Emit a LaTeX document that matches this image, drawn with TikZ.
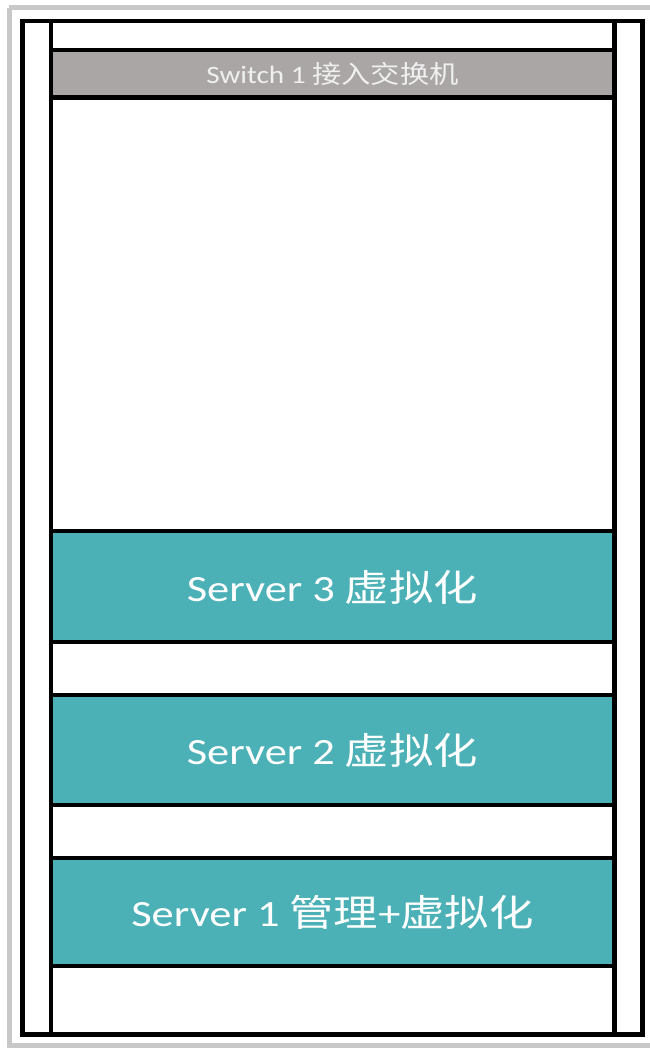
\documentclass[tikz,border=0pt]{standalone}
\usepackage{fontspec}
\setmainfont{Carlito}
\newfontfamily\cjk{Noto Sans CJK SC}
\definecolor{teal1}{HTML}{4BB1B7}
\definecolor{swgray}{HTML}{A9A6A5}
\definecolor{framegray}{HTML}{C8C8C8}
\begin{document}
\begin{tikzpicture}[x=1pt,y=-1pt,
  rackline/.style={draw=black,line width=4.8pt},
  serverbox/.style={rackline,fill=teal1},
  switchbox/.style={rackline,fill=swgray},
  lbl/.style={text=white,inner sep=0pt,anchor=center}]
\useasboundingbox (0,0) rectangle (650,1050);
\clip (0,0) rectangle (650,1050);
\fill[white] (0,0) rectangle (650,1050);
\draw[framegray,line width=5pt] (9,7.5) -- (680,7.5);
\draw[framegray,line width=5pt] (9,7.5) -- (9,1045.5) -- (680,1045.5);
% rack outer
\draw[rackline] (22.5,21) rectangle (642.5,1034.5);
% posts
\draw[rackline] (51,21) -- (51,1034.5);
\draw[rackline] (614.5,21) -- (614.5,1034.5);
% switch
\draw[switchbox] (51,50) rectangle (614.5,97.5);
\node[lbl,text=white!94!black] (sw) at (332.5,74) {\scalebox{1.17}[1]{\fontsize{25}{25}\selectfont Switch 1 {\cjk 接入交换机}}};
% servers
\draw[serverbox] (51,531) rectangle (614.5,642);
\node[lbl] (s3) at (332.5,587) {\scalebox{1.2}[1]{\fontsize{37}{37}\selectfont Server 3 {\cjk 虚拟化}}};
\draw[serverbox] (51,695) rectangle (614.5,805);
\node[lbl] (s2) at (332.5,750) {\scalebox{1.2}[1]{\fontsize{37}{37}\selectfont Server 2 {\cjk 虚拟化}}};
\draw[serverbox] (51,858) rectangle (614.5,966);
\node[lbl] (s1) at (332.5,912) {\scalebox{1.2}[1]{\fontsize{37}{37}\selectfont Server 1 {\cjk 管理}+{\cjk 虚拟化}}};
\end{tikzpicture}
\end{document}
